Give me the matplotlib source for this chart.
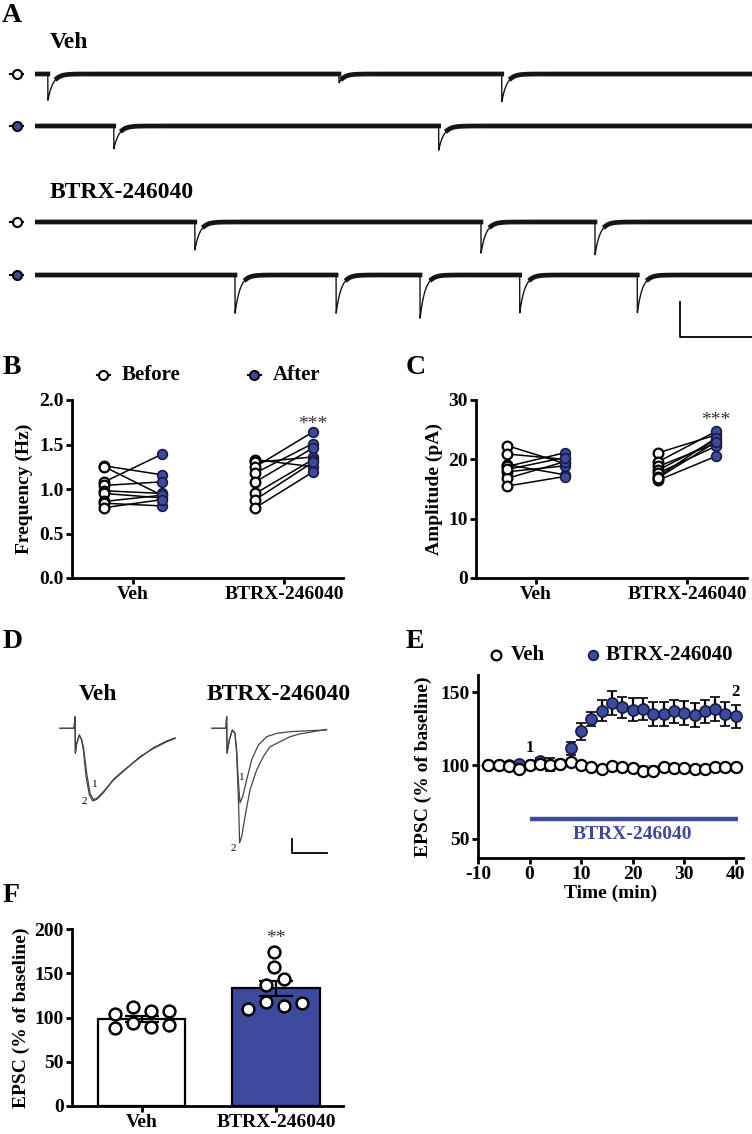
import numpy as np
import matplotlib
matplotlib.use('Agg')
import matplotlib.pyplot as plt

plt.rcParams['font.family'] = ['Liberation Serif', 'DejaVu Serif']
plt.rcParams['font.weight'] = 'bold'
plt.rcParams['axes.labelweight'] = 'bold'
plt.rcParams['axes.unicode_minus'] = False

W, H = 752, 1134
BLUE = '#3d4b9e'

# --- panel A: spontaneous EPSC events (time in s, amplitude in pA) ---
veh_before_t = [0.18, 4.24, 6.51]
veh_before_amp = [15, 5, 16]
veh_after_t = [1.10, 5.63]
veh_after_amp = [13, 14]
btrx_before_t = [2.23, 6.22, 7.81]
btrx_before_amp = [16, 18, 19]
btrx_after_t = [2.79, 4.20, 5.37, 6.76, 8.40]
btrx_after_amp = [22, 22, 25, 22, 22]

# --- panel B: frequency (Hz) ---
groups = ['Veh', 'BTRX-246040']
freq_veh_before = [1.26, 1.25, 1.08, 1.04, 0.98, 0.95, 0.86, 0.84, 0.79]
freq_veh_after = [1.16, 0.93, 1.39, 1.08, 0.95, 0.90, 0.93, 0.81, 0.88]
freq_btrx_before = [1.33, 1.30, 1.25, 1.18, 1.08, 0.95, 0.88, 0.79]
freq_btrx_after = [1.25, 1.36, 1.64, 1.51, 1.46, 1.33, 1.30, 1.19]

# --- panel C: amplitude (pA) ---
amp_veh_before = [22.3, 20.9, 19.1, 18.8, 17.9, 16.8, 15.5, 18.3]
amp_veh_after = [19.3, 20.0, 17.4, 21.1, 18.9, 19.6, 17.1, 20.3]
amp_btrx_before = [21.1, 19.6, 18.8, 18.2, 17.7, 17.1, 16.5, 16.9]
amp_btrx_after = [24.1, 24.7, 22.7, 23.2, 22.2, 23.6, 20.5, 22.9]

# --- panel D: evoked EPSC traces (time ms, current pA) ---
d_veh1_t = [0, 4.0, 4.29, 4.38, 4.76, 5.52, 6.19, 6.67, 7.62, 8.57, 9.52, 10.48, 12.38,
            15.24, 19.05, 22.86, 26.67, 30.48, 32.86]
d_veh1_i = [-1, -1, 40, -90, -55, -25, -43, -67, -162, -233, -255, -251, -227,
            -186, -144, -102, -73, -49, -37]
d_veh2_t = [0, 4.0, 4.29, 4.38, 4.76, 5.52, 6.19, 6.67, 7.43, 8.38, 9.33, 10.48, 12.38,
            15.24, 19.05, 22.86, 26.67, 30.48, 32.86]
d_veh2_i = [-1, -1, 40, -90, -55, -25, -43, -79, -174, -239, -260, -255, -231,
            -183, -142, -105, -70, -46, -35]
d_btrx1_t = [0, 4.0, 4.19, 4.29, 4.95, 5.81, 6.57, 7.05, 7.52, 8.0, 8.76, 9.9, 11.33,
             13.24, 15.62, 18.48, 22.29, 27.05, 32.76]
d_btrx1_i = [-1, -1, 40, -90, -43, -7, -19, -79, -186, -267, -245, -186, -114,
             -61, -31, -19, -13, -10, -7]
d_btrx2_t = [0, 4.0, 4.19, 4.29, 4.95, 5.81, 6.57, 7.05, 7.62, 7.9, 8.48, 9.43, 10.86,
             12.76, 14.67, 16.57, 19.43, 22.29, 25.14, 28.95, 32.76]
d_btrx2_i = [-1, -1, 40, -90, -43, -7, -19, -90, -281, -410, -388, -317, -221,
             -150, -102, -67, -49, -31, -21, -13, -5]

# --- panel E: time course (% of baseline) ---
e_time = [-8, -6, -4, -2, 0, 2, 4, 6, 8, 10, 12, 14, 16, 18, 20, 22, 24, 26, 28, 30,
          32, 34, 36, 38, 40]
e_veh = [100.5, 100, 99.8, 97.5, 100.5, 101, 100, 101, 102.7, 100, 98.9, 97.7, 99.8,
         99.3, 98.2, 96.4, 96.4, 99.3, 98.6, 98.2, 97.7, 97.5, 98.9, 99.3, 98.9]
e_veh_sem = [1.0, 1.0, 1.0, 1.5, 1.2, 1.5, 1.5, 1.5, 1.5, 1.0, 1.0, 1.0, 1.0, 1.0,
             1.2, 1.5, 2.0, 1.2, 1.5, 1.2, 1.2, 2.0, 2.0, 1.5, 1.5]
e_btrx = [100, 100, 100, 101, 100.5, 103, 100.5, 101, 111.8, 123.2, 131.6, 137.3,
          142.5, 139.5, 138, 138.6, 135.2, 135.2, 136.8, 135.7, 134.5, 136.8, 138.4,
          135.2, 133.4]
e_btrx_sem = [1.0, 1.0, 1.0, 1.5, 1.5, 2.0, 4.5, 3.0, 4.5, 6.0, 5.0, 7.0, 8.0, 7.0,
              8.0, 7.5, 8.0, 8.0, 8.0, 8.0, 8.0, 8.0, 8.0, 8.0, 8.0]

# --- panel F: EPSC % of baseline at 40 min ---
f_veh_pts = [103.8, 111.3, 106.8, 107.9, 87.9, 94.3, 89.1, 91.7]
f_btrx_pts = [174, 157, 143.4, 137, 109.4, 117, 113, 116]
f_means = [98.1, 132.8]
f_sems = [3.2, 8.3]

fig = plt.figure(figsize=(W / 100, H / 100), dpi=100)


def px_axes(left, top, right, bottom):
    return fig.add_axes([left / W, 1 - bottom / H, (right - left) / W, (bottom - top) / H])


def style(ax):
    ax.spines['top'].set_visible(False)
    ax.spines['right'].set_visible(False)
    ax.spines['left'].set_linewidth(2.0)
    ax.spines['bottom'].set_linewidth(2.0)
    ax.tick_params(width=2.0, length=4, labelsize=14, pad=2)


# overlay in pixel coordinates for letters and legends
ov = fig.add_axes([0, 0, 1, 1])
ov.set_xlim(0, W)
ov.set_ylim(H, 0)
ov.axis('off')

for letter, x, y in [('A', 2, 16), ('B', 3, 367), ('C', 406, 367),
                     ('D', 3, 641), ('E', 406, 641), ('F', 3, 896)]:
    ov.text(x, y, letter, fontsize=20, va='center', ha='left')

# ---------------- panel A ----------------
ov.text(50, 42, 'Veh', fontsize=17, va='center')
ov.text(50, 193, 'BTRX-246040', fontsize=17, va='center')

t = np.linspace(0, 10, 6000)


def build_trace(times, amps, tau=0.07):
    y = np.zeros_like(t)
    for t0, a in zip(times, amps):
        m = t >= t0
        y[m] -= a * np.exp(-(t[m] - t0) / tau)
    return y


rows = [(74, veh_before_t, veh_before_amp, 'white'),
        (126, veh_after_t, veh_after_amp, BLUE),
        (222, btrx_before_t, btrx_before_amp, 'white'),
        (275, btrx_after_t, btrx_after_amp, BLUE)]
for yb, times, amps, mfc in rows:
    ax = px_axes(35, yb - 17.5, 752, yb + 52.5)
    trace = build_trace(times, amps)
    # thin line for the whole record, thick band where the record sits near baseline
    ax.plot(t, trace, color='#151515', lw=1.0)
    ax.plot(t, np.ma.masked_where(trace < -2.5, trace), color='#151515', lw=3.4)
    ax.set_xlim(0, 10)
    ax.set_ylim(-30, 10)
    ax.axis('off')
    ov.plot([10, 23], [yb, yb], color='black', lw=1.5)
    ov.plot(16.5, yb, 'o', ms=6.5, mfc=mfc, mec='black', mew=1.5)
    last = ax

# scale bar
last.plot([9.0, 9.0, 10.0], [-15.5, -35.5, -35.5], color='black', lw=1.3, clip_on=False)

# ---------------- panel B ----------------
off = 0.19


def paired(ax, before_sets, after_sets):
    for i, (bef, aft) in enumerate(zip(before_sets, after_sets)):
        for b, a in zip(bef, aft):
            ax.plot([i - off, i + off], [b, a], color='black', lw=1.1, zorder=2)
        ax.plot([i - off] * len(bef), bef, 'o', ms=7, mfc='white', mec='black', mew=1.6, zorder=3)
        ax.plot([i + off] * len(aft), aft, 'o', ms=7, mfc=BLUE, mec='#1a1a40', mew=1.2, zorder=3)


axb = px_axes(72, 400, 343, 578)
paired(axb, [freq_veh_before, freq_btrx_before], [freq_veh_after, freq_btrx_after])
axb.set_xlim(-0.404, 1.39)
axb.set_ylim(0, 2.0)
axb.set_yticks([0, 0.5, 1.0, 1.5, 2.0])
axb.set_yticklabels(['0.0', '0.5', '1.0', '1.5', '2.0'])
axb.set_xticks([0, 1])
axb.set_xticklabels(groups)
axb.set_ylabel('Frequency (Hz)', fontsize=14)
axb.yaxis.set_label_coords(-0.144, 0.5)
style(axb)
axb.text(1 + off, 1.72, '***', ha='center', va='center', fontsize=14,
         fontweight='normal', color='#333333')

# legend of B
for xm, lab, mfc in [(103, 'Before', 'white'), (254, 'After', BLUE)]:
    ov.plot([xm - 6.5, xm + 6.5], [375, 375], color='black', lw=1.5)
    ov.plot(xm, 375, 'o', ms=6.5, mfc=mfc, mec='black', mew=1.5)
    ov.text(xm + 19, 375, lab, fontsize=15, va='center')

# ---------------- panel C ----------------
axc = px_axes(476, 400, 747, 578)
paired(axc, [amp_veh_before, amp_btrx_before], [amp_veh_after, amp_btrx_after])
axc.set_xlim(-0.397, 1.397)
axc.set_ylim(0, 30)
axc.set_yticks([0, 10, 20, 30])
axc.set_xticks([0, 1])
axc.set_xticklabels(groups)
axc.set_ylabel('Amplitude (pA)', fontsize=14)
axc.yaxis.set_label_coords(-0.122, 0.5)
style(axc)
axc.text(1 + off, 26.6, '***', ha='center', va='center', fontsize=14,
         fontweight='normal', color='#333333')

# ---------------- panel D ----------------
ov.text(98, 695, 'Veh', fontsize=17, ha='center', va='center')
ov.text(279, 695, 'BTRX-246040', fontsize=17, ha='center', va='center')

axd1 = px_axes(50, 700, 190, 860)
axd1.plot(d_veh1_t, d_veh1_i, color='#444444', lw=0.9)
axd1.plot(d_veh2_t, d_veh2_i, color='#444444', lw=0.9)
axd1.set_xlim(-2.86, 37.1)
axd1.set_ylim(-471, 100)
axd1.axis('off')
axd1.text(9.9, -200, '1', fontsize=8, fontweight='normal', ha='center', va='center')
axd1.text(7.0, -264, '2', fontsize=8, fontweight='normal', ha='center', va='center')

axd2 = px_axes(202, 700, 340, 860)
axd2.plot(d_btrx1_t, d_btrx1_i, color='#444444', lw=0.9)
axd2.plot(d_btrx2_t, d_btrx2_i, color='#444444', lw=0.9)
axd2.set_xlim(-2.86, 36.6)
axd2.set_ylim(-471, 100)
axd2.axis('off')
axd2.text(8.6, -175, '1', fontsize=8, fontweight='normal', ha='center', va='center')
axd2.text(6.0, -429, '2', fontsize=8, fontweight='normal', ha='center', va='center')
axd2.plot([22.86, 22.86, 32.86], [-396, -446, -446], color='black', lw=1.3)

# ---------------- panel E ----------------
axe = px_axes(478, 675, 743, 858)
axe.axhline(100, color='#999999', lw=0.8, zorder=1)
axe.errorbar(e_time, e_btrx, yerr=e_btrx_sem, fmt='o', ms=8, mfc=BLUE, mec='#1a1a40',
             mew=1.2, ecolor='black', elinewidth=1.6, capsize=3.5, capthick=1.6, zorder=3)
axe.errorbar(e_time, e_veh, yerr=e_veh_sem, fmt='o', ms=8, mfc='white', mec='black',
             mew=1.6, ecolor='black', elinewidth=1.6, capsize=3.5, capthick=1.6, zorder=4)
axe.plot([0, 40.5], [63.5, 63.5], color=BLUE, lw=3.2, solid_capstyle='butt')
axe.text(20, 53, 'BTRX-246040', color=BLUE, fontsize=14, ha='center', va='center')
axe.text(0, 112, '1', fontsize=12, ha='center', va='center')
axe.text(40, 150, '2', fontsize=12, ha='center', va='center')
axe.set_xlim(-10, 41.4)
axe.set_ylim(37, 161.6)
axe.set_xticks([-10, 0, 10, 20, 30, 40])
axe.set_yticks([50, 100, 150])
axe.set_xlabel('Time (min)', fontsize=14, labelpad=1)
axe.set_ylabel('EPSC (% of baseline)', fontsize=14)
axe.yaxis.set_label_coords(-0.174, 0.5)
style(axe)

ov.plot(496, 655, 'o', ms=7, mfc='white', mec='black', mew=1.6)
ov.text(511, 655, 'Veh', fontsize=15, va='center')
ov.plot(593, 655, 'o', ms=7, mfc=BLUE, mec='#1a1a40', mew=1.2)
ov.text(606, 655, 'BTRX-246040', fontsize=15, va='center')

# ---------------- panel F ----------------
axf = px_axes(72, 929, 343, 1106)
axf.bar([0, 1], f_means, width=0.65, color=['white', BLUE], edgecolor='black',
        linewidth=1.6, zorder=1)
axf.errorbar([0, 1], f_means, yerr=f_sems, fmt='none', ecolor='black', elinewidth=1.6,
             capsize=12, capthick=1.6, zorder=2)
veh_jit = [-0.2, -0.065, 0.07, 0.2, -0.2, -0.065, 0.07, 0.2]
btrx_jit = [-0.015, -0.015, 0.06, -0.075, -0.21, -0.075, 0.06, 0.195]
axf.plot([0 + j for j in veh_jit], f_veh_pts, 'o', ms=8.5, mfc='white', mec='black',
         mew=1.8, zorder=3)
axf.plot([1 + j for j in btrx_jit], f_btrx_pts, 'o', ms=8.5, mfc='white', mec='black',
         mew=1.8, zorder=3)
axf.set_xlim(-0.52, 1.5)
axf.set_ylim(0, 200)
axf.set_yticks([0, 50, 100, 150, 200])
axf.set_xticks([0, 1])
axf.set_xticklabels(groups)
axf.set_ylabel('EPSC (% of baseline)', fontsize=14)
axf.yaxis.set_label_coords(-0.155, 0.5)
style(axf)
axf.text(1, 189, '**', ha='center', va='center', fontsize=14, fontweight='normal',
         color='#333333')

fig.savefig('out.png', dpi=100)
